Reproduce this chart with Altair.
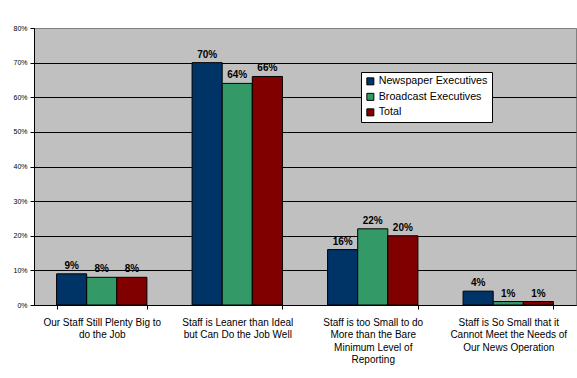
import altair as alt
import pandas as pd

categories = [
    "Our Staff Still Plenty Big to|do the Job",
    "Staff is Leaner than Ideal|but Can Do the Job Well",
    "Staff is too Small to do|More than the Bare|Minimum Level of|Reporting",
    "Staff is So Small that it|Cannot Meet the Needs of|Our News Operation",
]
series = ["Newspaper Executives", "Broadcast Executives", "Total"]
newspaper = [9, 70, 16, 4]
broadcast = [8, 64, 22, 1]
total = [8, 66, 20, 1]
colors = ["#003366", "#339966", "#800000"]
y_ticks = [0, 10, 20, 30, 40, 50, 60, 70, 80]

rows = []
for s, vals in zip(series, [newspaper, broadcast, total]):
    for c, v in zip(categories, vals):
        rows.append({"category": c, "series": s, "value": v})
df = pd.DataFrame(rows)

FONT = "Arial, Liberation Sans, sans-serif"

base = alt.Chart(df).encode(
    x=alt.X(
        "category:N",
        sort=categories,
        scale=alt.Scale(paddingInner=1 / 3, paddingOuter=1 / 6),
        axis=alt.Axis(
            title=None,
            labelAngle=0,
            labelExpr="split(datum.label, '|')",
            labelFont=FONT,
            labelFontSize=10,
            labelLineHeight=12.5,
            labelPadding=8,
            labelColor="black",
            labelBaseline="top",
            labelLimit=300,
            tickBand="extent",
            tickSize=4,
            tickColor="black",
            domainColor="black",
            grid=False,
        ),
    ),
    xOffset=alt.XOffset("series:N", sort=series),
    y=alt.Y(
        "value:Q",
        scale=alt.Scale(domain=[0, 80], nice=False),
        axis=alt.Axis(
            title=None,
            values=y_ticks,
            labelExpr="datum.value + '%'",
            labelFont=FONT,
            labelFontSize=7,
            labelColor="black",
            labelPadding=3,
            tickSize=4,
            tickColor="black",
            domainColor="black",
            gridColor={"condition": {"test": "datum.value >= 80", "value": "#808080"}, "value": "black"},
            gridWidth=1,
            gridOpacity=1,
        ),
    ),
)

bars = base.mark_bar(stroke="black", strokeWidth=1).encode(
    color=alt.Color(
        "series:N",
        sort=series,
        scale=alt.Scale(domain=series, range=colors),
        legend=alt.Legend(
            title=None,
            orient="none",
            legendX=327,
            legendY=44,
            fillColor="white",
            strokeColor="black",
            padding=4,
            labelFont=FONT,
            labelFontSize=10.7,
            labelColor="black",
            symbolType="square",
            symbolSize=49,
            symbolStrokeColor="black",
            symbolStrokeWidth=1,
            symbolOpacity=1,
            labelOffset=3,
            rowPadding=3.5,
        ),
    )
)

labels = base.transform_calculate(lbl="datum.value + '%'").mark_text(
    font=FONT, fontSize=10, fontWeight="bold", baseline="alphabetic", dy=-5, color="black"
).encode(text="lbl:N")

chart = (
    alt.layer(bars, labels)
    .properties(
        width=542,
        height=277,
        autosize=alt.AutoSizeParams(type="none"),
        padding={"left": 34, "top": 28, "right": 1, "bottom": 73},
        background="white",
    )
    .configure_view(fill="#C0C0C0", stroke="#808080", strokeWidth=1)
)

chart.save("out.html", embed_options={"renderer": "svg", "actions": False})
